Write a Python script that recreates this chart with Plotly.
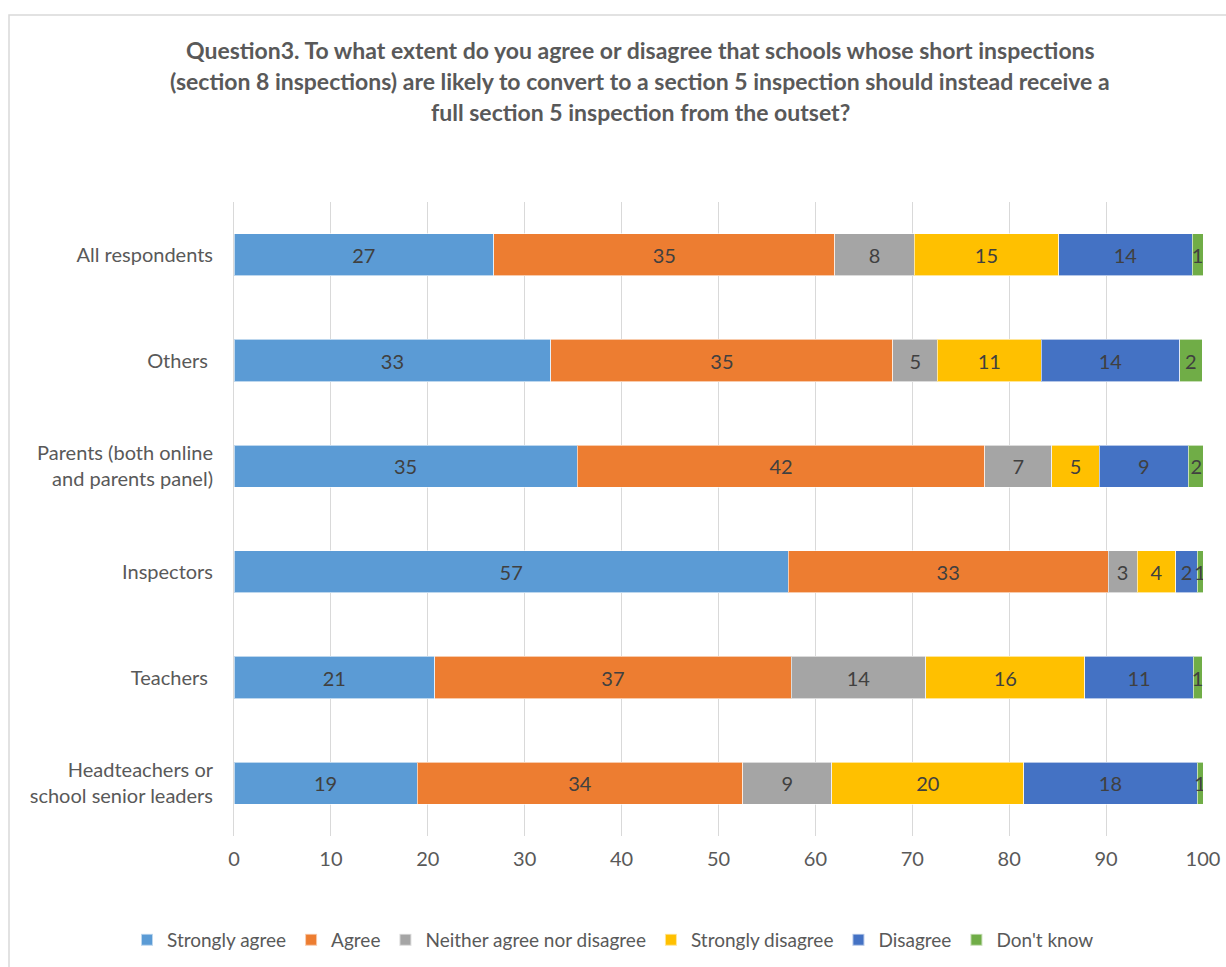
import plotly.graph_objects as go

categories = [
    "Headteachers or<br>school senior leaders",
    "Teachers ",
    "Inspectors",
    "Parents (both online<br>and parents panel)",
    "Others ",
    "All respondents",
]
series_names = ["Strongly agree", "Agree", "Neither agree nor disagree",
                "Strongly disagree", "Disagree", "Don't know"]
colors = ["#5B9BD5", "#ED7D31", "#A5A5A5", "#FFC000", "#4472C4", "#70AD47"]

strongly_agree = [18.9, 20.7, 57.2, 35.4, 32.7, 26.8]
agree = [33.6, 36.8, 33.0, 42.1, 35.3, 35.2]
neither = [9.2, 13.9, 3.0, 6.9, 4.6, 8.2]
strongly_disagree = [19.8, 16.4, 4.0, 4.9, 10.7, 14.9]
disagree = [17.9, 11.2, 2.2, 9.2, 14.3, 13.8]
dont_know = [0.6, 0.9, 0.6, 1.6, 2.3, 1.1]

x_ticks = [0, 10, 20, 30, 40, 50, 60, 70, 80, 90, 100]
title_lines = [
    "Question3. To what extent do you agree or disagree that schools whose short inspections",
    "(section 8 inspections) are likely to convert to a section 5 inspection should instead receive a",
    "full section 5 inspection from the outset?",
]

FONT = "Lato, sans-serif"
W, H = 1226, 967
L, R, T, B = 234, 23, 202, 131

fig = go.Figure()
all_series = [strongly_agree, agree, neither, strongly_disagree, disagree, dont_know]
for name, vals, col in zip(series_names, all_series, colors):
    fig.add_trace(go.Bar(
        y=categories, x=vals, name=name, orientation="h",
        marker=dict(color=col, line=dict(color="rgba(255,255,255,0.6)", width=1)),
        texttemplate="%{x:.0f}", textposition="inside", insidetextanchor="middle",
        textangle=0, constraintext="none",
        textfont=dict(family=FONT, size=20, color="#404040"),
        hoverinfo="x+name",
    ))

fig.update_layout(
    width=W, height=H, autosize=False,
    margin=dict(l=L, r=R, t=T, b=B, autoexpand=False),
    barmode="stack", bargap=0.6,
    plot_bgcolor="white", paper_bgcolor="white",
    font=dict(family=FONT, size=20, color="#595959"),
    showlegend=True,
    legend=dict(orientation="h", xref="container", x=0.5, xanchor="center",
                yref="container", y=1 - 940 / H, yanchor="middle",
                font=dict(size=19, color="#595959"), traceorder="normal",
                itemwidth=30, itemsizing="constant", tracegroupgap=0),
    xaxis=dict(range=[0, 100], tickvals=x_ticks, showgrid=True, gridcolor="#D9D9D9",
               gridwidth=1, zeroline=False, showline=False, ticks="", automargin=False,
               tickfont=dict(size=20, color="#595959"), ticklabelstandoff=9),
    yaxis=dict(showgrid=False, showline=True, linecolor="#D9D9D9", linewidth=1,
               ticks="", automargin=False, tickfont=dict(size=20, color="#595959"),
               ticklabelstandoff=16),
)

pw, ph = W - L - R, H - T - B
for i, line in enumerate(title_lines):
    fig.add_annotation(text="<b>" + line + "</b>", xref="paper", yref="paper",
                       x=(640 - L) / pw, y=(836 - (50 + 31 * i)) / ph,
                       xanchor="center", yanchor="middle", showarrow=False,
                       font=dict(family=FONT, size=23, color="#595959"))

fig.add_shape(type="rect", xref="paper", yref="paper",
              x0=(9 - L) / pw, x1=(1240 - L) / pw,
              y0=(836 - 990) / ph, y1=(836 - 15) / ph,
              line=dict(color="#D9D9D9", width=1.5), fillcolor="rgba(0,0,0,0)", layer="below")

fig.write_html("out.html", config={"displayModeBar": False},
               post_script="document.body.style.margin='0';document.body.style.overflow='hidden';")
